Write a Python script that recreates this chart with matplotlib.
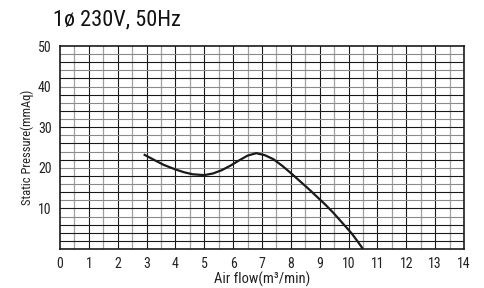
import matplotlib
matplotlib.use("Agg")
import matplotlib.pyplot as plt
import numpy as np

# Data
air_flow = [2.9, 3.3, 3.6, 4.0, 4.3, 4.6, 5.0, 5.3, 5.6, 5.9, 6.2, 6.5, 6.8, 7.1,
            7.4, 7.7, 8.0, 8.3, 8.6, 8.9, 9.2, 9.5, 9.8, 10.1, 10.3, 10.5]
static_pressure = [23.3, 21.8, 20.7, 19.6, 18.9, 18.4, 18.2, 18.6, 19.4, 20.5, 21.8,
                   23.0, 23.6, 23.1, 22.1, 20.5, 18.7, 16.8, 14.9, 12.9, 10.9, 8.7,
                   6.3, 3.9, 2.0, 0.0]
x_ticks = list(range(0, 15))
y_ticks = [10, 20, 30, 40, 50]
title = "1ø 230V, 50Hz"
x_label = "Air flow(m³/min)"
y_label = "Static Pressure(mmAq)"

plt.rcParams['font.family'] = ['Roboto Condensed', 'Archivo Narrow', 'Liberation Sans', 'DejaVu Sans']

fig = plt.figure(figsize=(4.85, 2.88), dpi=100)
ax = fig.add_axes([60/485, 1-249/288, (464-60)/485, (249-46)/288])
ax.set_xlim(0, 14)
ax.set_ylim(0, 50)

for xv in np.arange(0.5, 14, 1.0):
    ax.axvline(xv, color='#a0a0a0', lw=0.9, zorder=1)
for xv in range(1, 14):
    ax.axvline(xv, color='#1a1a1a', lw=0.8, zorder=1)
for yv in range(2, 50, 2):
    c = '#8a8a8a' if (yv % 4 == 0 and yv >= 8) else '#1a1a1a'
    ax.axhline(yv, color=c, lw=0.8, zorder=1)

ax.plot(air_flow, static_pressure, color='#1a1a1a', lw=1.6, zorder=3,
        solid_capstyle='butt')

ax.set_xticks(x_ticks)
ax.set_yticks(y_ticks)
ax.tick_params(length=0, labelsize=10, pad=6, colors='#222222')
for s in ax.spines.values():
    s.set_color('#1a1a1a')
    s.set_linewidth(1.2)

ax.set_xlabel(x_label, fontsize=10.5, color='#222222')
ax.xaxis.set_label_coords(0.5, -(279-249)/203, transform=ax.transAxes)
ax.xaxis.label.set_va('center')
ax.set_ylabel(y_label, fontsize=9, color='#222222')
ax.yaxis.set_label_coords(-(60-27)/404, 0.5, transform=ax.transAxes)
ax.yaxis.label.set_va('center')

fig.text(53/485, 1-20/288, title, fontsize=16, va='center', ha='left', color='#111111')

fig.savefig("out.png", dpi=100)
